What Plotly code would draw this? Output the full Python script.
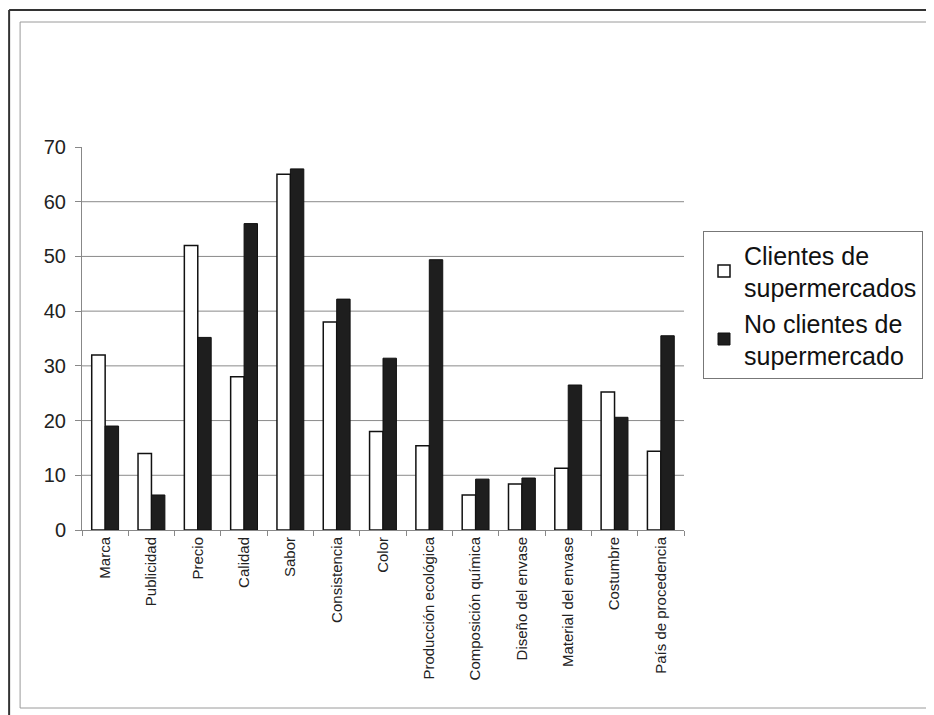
import plotly.graph_objects as go

categorias = ["Marca", "Publicidad", "Precio", "Calidad", "Sabor", "Consistencia", "Color",
              "Producción ecológica", "Composición química", "Diseño del envase",
              "Material del envase", "Costumbre", "País de procedencia"]
clientes = [32, 14, 52, 28, 65, 38, 18, 15.4, 6.4, 8.4, 11.3, 25.2, 14.4]
no_clientes = [19, 6.4, 35.2, 56, 66, 42.2, 31.4, 49.4, 9.3, 9.5, 26.5, 20.6, 35.5]
y_ticks = [0, 10, 20, 30, 40, 50, 60, 70]
grid_vals = [10, 20, 30, 40, 50, 60]

OFF = 8  # page body margin
W, H = 934 - OFF, 715 - OFF
# plot area in screen pixels
L, R, T, B = 82, 685, 147, 530
pw, ph = R - L, B - T

def px(x):
    return (x - L) / pw

def py(y):
    return (B - y) / ph

FONT = "Arial, Liberation Sans, sans-serif"

fig = go.Figure()
fig.add_trace(go.Bar(
    x=categorias, y=clientes, name="Clientes de<br>supermercados",
    marker=dict(color="white", line=dict(color="#111", width=1.5)),
))
fig.add_trace(go.Bar(
    x=categorias, y=no_clientes, name="No clientes de<br>supermercado",
    marker=dict(color="#1e1e1e", line=dict(color="#111", width=1)),
))

shapes = []
for g in grid_vals:
    shapes.append(dict(type="line", xref="paper", yref="y", x0=0, x1=1, y0=g, y1=g,
                       line=dict(color="#8a8a8a", width=1), layer="below"))
# inner frame
shapes.append(dict(type="rect", xref="paper", yref="paper",
                   x0=px(20), x1=px(931), y0=py(708), y1=py(22),
                   line=dict(color="#9a9a9a", width=1), layer="below"))
# outer frame (top and left)
shapes.append(dict(type="line", xref="paper", yref="paper",
                   x0=px(9), x1=px(940), y0=py(10), y1=py(10),
                   line=dict(color="#333", width=2)))
shapes.append(dict(type="line", xref="paper", yref="paper",
                   x0=px(9), x1=px(9), y0=py(10), y1=py(720),
                   line=dict(color="#333", width=2)))

fig.update_layout(
    width=W, height=H,
    margin=dict(l=L - OFF, r=(W + OFF) - R, t=T - OFF, b=(H + OFF) - B, pad=0),
    paper_bgcolor="white", plot_bgcolor="white",
    barmode="group", bargap=0.42, bargroupgap=0,
    font=dict(family=FONT, color="#111"),
    showlegend=True,
    legend=dict(
        x=px(703), y=py(231), xanchor="left", yanchor="top",
        bordercolor="#777", borderwidth=1, bgcolor="white",
        font=dict(size=25, family=FONT, color="#111"),
        tracegroupgap=0, itemwidth=30,
    ),
    shapes=shapes,
    xaxis=dict(
        tickangle=-90, tickfont=dict(size=15, family=FONT, color="#222"),
        showline=True, linecolor="#888", linewidth=1,
        ticks="outside", ticklen=5, tickcolor="#888", tickson="boundaries",
        showgrid=False,
    ),
    yaxis=dict(
        range=[0, 70], tickvals=y_ticks, ticktext=[str(v) for v in y_ticks],
        tickfont=dict(size=20, family=FONT, color="#222"),
        showline=True, linecolor="#888", linewidth=1,
        ticks="outside", ticklen=6, tickcolor="#888", ticklabelstandoff=5,
        showgrid=False, zeroline=False,
    ),
)

fig.write_html("out.html")
